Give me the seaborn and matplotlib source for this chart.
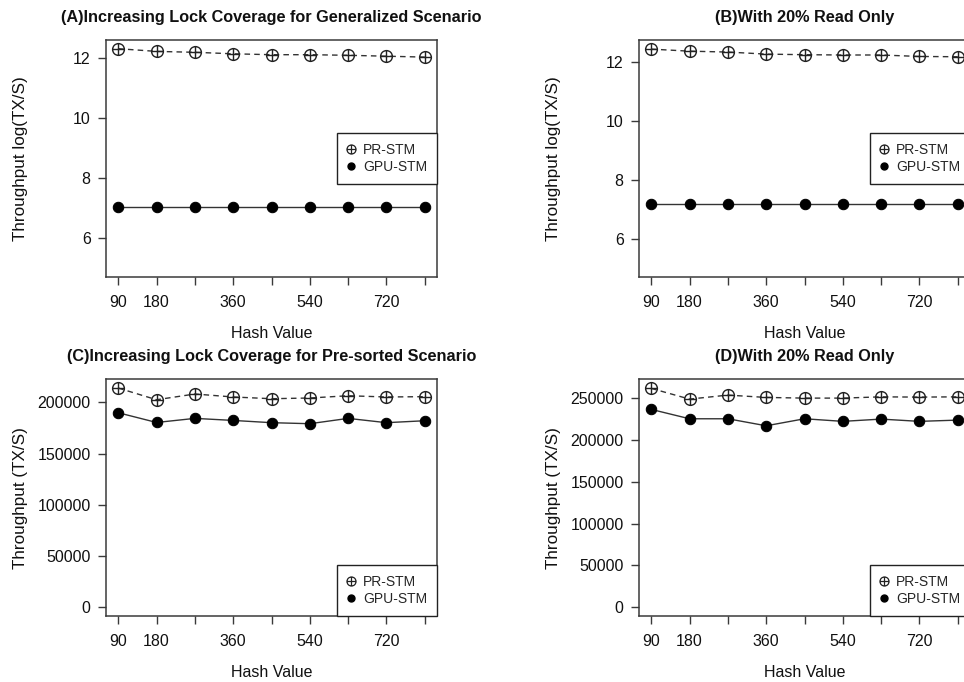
import numpy as np
import pandas as pd
import matplotlib
matplotlib.use("Agg")
import matplotlib.pyplot as plt
import seaborn as sns
from matplotlib.path import Path
from matplotlib.lines import Line2D

sns.set_style("white")
plt.rcParams['font.family'] = ['Liberation Sans', 'DejaVu Sans']

hash_values = [90, 180, 270, 360, 450, 540, 630, 720, 810]
tick_labels = ["90", "180", "", "360", "", "540", "", "720", ""]

a_pr = [12.31, 12.22, 12.19, 12.14, 12.11, 12.11, 12.09, 12.06, 12.03]
a_gpu = [7.02, 7.02, 7.02, 7.02, 7.02, 7.02, 7.02, 7.02, 7.02]
b_pr = [12.45, 12.38, 12.35, 12.28, 12.26, 12.25, 12.25, 12.20, 12.19]
b_gpu = [7.18, 7.18, 7.18, 7.18, 7.18, 7.18, 7.18, 7.18, 7.18]
c_pr = [214000, 202600, 208200, 205300, 203600, 204300, 206500, 205300, 205600]
c_gpu = [189900, 180400, 184400, 182400, 180200, 179200, 184400, 180200, 182100]
d_pr = [261600, 248800, 253600, 250800, 250000, 250000, 251500, 251200, 251500]
d_gpu = [236500, 225300, 225300, 216900, 225300, 222200, 224900, 222200, 223700]

titles = ["(A)Increasing Lock Coverage for Generalized Scenario",
          "(B)With 20% Read Only",
          "(C)Increasing Lock Coverage for Pre-sorted Scenario",
          "(D)With 20% Read Only"]
ylabels = ["Throughput log(TX/S)", "Throughput log(TX/S)",
           "Throughput (TX/S)", "Throughput (TX/S)"]
xlabel = "Hash Value"
series_names = ["PR-STM", "GPU-STM"]

# circle-plus marker (R pch=10)
circ = Path.unit_circle()
cross = Path([[-1, 0], [1, 0], [0, -1], [0, 1]],
             [Path.MOVETO, Path.LINETO, Path.MOVETO, Path.LINETO])
oplus = Path.make_compound_path(circ, cross)

W, H = 964, 682
fig = plt.figure(figsize=(W / 100, H / 100), dpi=100)

def rect(l, t, r, b):
    return [l / W, 1 - b / H, (r - l) / W, (b - t) / H]

axes_rects = [rect(106, 40, 437, 277), rect(639, 40, 970, 277),
              rect(106, 379.3, 437, 616), rect(639, 379.3, 970, 616)]
ylims = [(4.7, 12.6), (4.7, 12.76), (-8560, 222560), (-10480, 272480)]
yticks = [[6, 8, 10, 12], [6, 8, 10, 12],
          [0, 50000, 100000, 150000, 200000],
          [0, 50000, 100000, 150000, 200000, 250000]]
data = [(a_pr, a_gpu), (b_pr, b_gpu), (c_pr, c_gpu), (d_pr, d_gpu)]
leg_loc = ["center right", "center right", "lower right", "lower right"]

box_col = "#3a3a3a"
for i in range(4):
    ax = fig.add_axes(axes_rects[i])
    pr, gpu = data[i]
    df = pd.DataFrame({"hash": hash_values, "pr": pr, "gpu": gpu})
    sns.lineplot(data=df, x="hash", y="pr", ax=ax, color="#333333",
                 linestyle=(0, (4, 3)), linewidth=1.0, marker=oplus,
                 markersize=8.5, markerfacecolor="none",
                 markeredgecolor="#222222", markeredgewidth=1.0)
    sns.lineplot(data=df, x="hash", y="gpu", ax=ax, color="#333333",
                 linewidth=1.0, marker="o", markersize=7.5,
                 markerfacecolor="black", markeredgecolor="black")
    ax.set_xlim(61.2, 838.8)
    ax.set_ylim(*ylims[i])
    ax.set_xticks(hash_values)
    ax.set_xticklabels(tick_labels)
    ax.set_yticks(yticks[i])
    ax.set_yticklabels([str(v) for v in yticks[i]])
    ax.tick_params(axis="both", which="both", direction="out", length=6,
                   width=1.0, color=box_col, labelsize=11.5,
                   labelcolor="#111111", bottom=True, left=True)
    ax.tick_params(axis="x", pad=7)
    ax.tick_params(axis="y", pad=5)
    for s in ax.spines.values():
        s.set_color(box_col)
        s.set_linewidth(1.1)
    ax.set_title(titles[i], fontsize=11.7, fontweight="bold", pad=13,
                 color="#111111")
    ax.set_xlabel(xlabel, fontsize=11.5, color="#111111")
    ax.set_ylabel(ylabels[i], fontsize=12.3, color="#111111")
    ax.xaxis.set_label_coords(0.5, -0.205)
    ax.yaxis.set_label_coords(-0.237, 0.5)
    ax.grid(False)
    handles = [Line2D([], [], linestyle="none", marker=oplus, markersize=6.5,
                      markerfacecolor="none", markeredgecolor="#222222",
                      markeredgewidth=0.9),
               Line2D([], [], linestyle="none", marker="o", markersize=5,
                      markerfacecolor="black", markeredgecolor="black")]
    leg = ax.legend(handles, series_names, loc=leg_loc[i], fontsize=10,
                    frameon=True, fancybox=False, edgecolor="#222222",
                    borderaxespad=0, handlelength=0.6, handletextpad=0.55,
                    borderpad=0.7, labelspacing=0.25, framealpha=1)
    leg.get_frame().set_linewidth(1.0)

fig.savefig("out.png", dpi=100)
